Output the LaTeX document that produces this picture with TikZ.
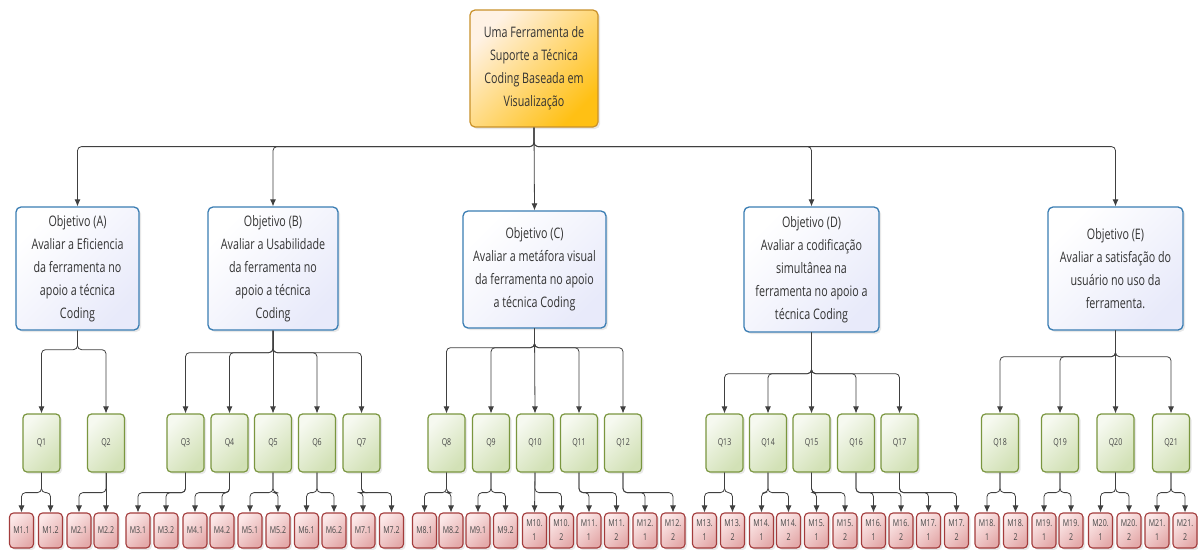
\documentclass[tikz,border=0pt]{standalone}
\usepackage{fontspec}
\setmainfont{Open Sans}[FakeStretch=0.74]
\usepackage{tikz}
\usetikzlibrary{arrows.meta, shadows}
\definecolor{bordaraiz}{HTML}{C9912A}
\definecolor{bordaobj}{HTML}{3A7DB3}
\definecolor{bordaq}{HTML}{7A963F}
\definecolor{bordam}{HTML}{A33C3C}
\definecolor{texto}{HTML}{333333}
\tikzstyle{sombra} = [drop shadow={opacity=0.18, shadow xshift=2pt, shadow yshift=-2pt}]
\tikzstyle{raizbox} = [rectangle, rounded corners=5pt, draw=bordaraiz, line width=1.2pt, top color=orange!10, bottom color={rgb,255:red,255;green,192;blue,20}, shading angle=45, sombra, inner sep=0pt, align=center, text=texto, font=\fontsize{14.5}{23}\selectfont]
\tikzstyle{objbox} = [rectangle, rounded corners=5pt, draw=bordaobj, line width=1.3pt, top color=white, bottom color={rgb,255:red,232;green,234;blue,250}, shading angle=45, sombra, inner sep=0pt, align=center, text=texto, font=\fontsize{14.5}{23}\selectfont]
\tikzstyle{qbox} = [rectangle, rounded corners=4pt, draw=bordaq, line width=1.2pt, top color={rgb,255:red,246;green,249;blue,240}, bottom color={rgb,255:red,210;green,225;blue,182}, shading angle=45, sombra, inner sep=0pt, minimum width=37pt, minimum height=58pt, text=texto!90, font=\fontsize{9.5}{13}\selectfont]
\tikzstyle{mbox} = [rectangle, rounded corners=4pt, draw=bordam, line width=1.1pt, top color={rgb,255:red,252;green,232;blue,232}, bottom color={rgb,255:red,228;green,170;blue,170}, shading angle=45, sombra, inner sep=0pt, minimum width=24pt, minimum height=35pt, align=center, text=texto!90, font=\fontsize{9.5}{14}\selectfont]
\tikzstyle{arrow} = [-{Latex[length=7pt,width=6pt]}, draw=black!75, line width=0.8pt, rounded corners=4pt]

\begin{document}
\begin{tikzpicture}[x=1pt, y=-1pt]

    \fill[white] (0,0) rectangle (1198,549);
    \useasboundingbox (0,0) rectangle (1198,549);

    % raiz
    \node[raizbox, minimum width=128pt, minimum height=117pt] (raiz) at (534,68.5) {Uma Ferramenta de\\Suporte a Técnica\\Coding Baseada em\\Visualização};

    % objetivos
    \node[objbox, minimum width=123pt, minimum height=123pt] (oA) at (77.5,268.5) {Objetivo (A)\\Avaliar a Eficiencia\\da ferramenta no\\apoio a técnica\\Coding};
    \node[objbox, minimum width=130pt, minimum height=123pt] (oB) at (273,268.5) {Objetivo (B)\\Avaliar a Usabilidade\\da ferramenta no\\apoio a técnica\\Coding};
    \node[objbox, minimum width=143pt, minimum height=117pt] (oC) at (534.5,269.5) {Objetivo (C)\\Avaliar a metáfora visual\\da ferramenta no apoio\\a técnica Coding};
    \node[objbox, minimum width=135pt, minimum height=125pt] (oD) at (811.5,269.5) {Objetivo (D)\\Avaliar a codificação\\simultânea na\\ferramenta no apoio a\\técnica Coding};
    \node[objbox, minimum width=135pt, minimum height=123pt] (oE) at (1115.5,268.5) {Objetivo (E)\\Avaliar a satisfação do\\usuário no uso da\\ferramenta.};

    % questoes
    \node[qbox] (q1) at (41.5,443) {Q1};
    \node[qbox] (q2) at (106,443) {Q2};
    \node[qbox] (q3) at (185.5,443) {Q3};
    \node[qbox] (q4) at (229.5,443) {Q4};
    \node[qbox] (q5) at (273,443) {Q5};
    \node[qbox] (q6) at (317,443) {Q6};
    \node[qbox] (q7) at (361.5,443) {Q7};
    \node[qbox] (q8) at (446.5,443) {Q8};
    \node[qbox] (q9) at (491,443) {Q9};
    \node[qbox] (q10) at (535,443) {Q10};
    \node[qbox] (q11) at (579,443) {Q11};
    \node[qbox] (q12) at (623,443) {Q12};
    \node[qbox] (q13) at (724.5,443) {Q13};
    \node[qbox] (q14) at (768,443) {Q14};
    \node[qbox] (q15) at (811.5,443) {Q15};
    \node[qbox] (q16) at (856,443) {Q16};
    \node[qbox] (q17) at (899.5,443) {Q17};
    \node[qbox] (q18) at (1000,443) {Q18};
    \node[qbox] (q19) at (1060,443) {Q19};
    \node[qbox] (q20) at (1115.5,443) {Q20};
    \node[qbox] (q21) at (1171,443) {Q21};

    % metricas
    \node[mbox] (m1a) at (21.5,530.5) {M1.1};
    \node[mbox] (m1b) at (50.5,530.5) {M1.2};
    \node[mbox] (m2a) at (79,530.5) {M2.1};
    \node[mbox] (m2b) at (106,530.5) {M2.2};
    \node[mbox] (m3a) at (138,530.5) {M3.1};
    \node[mbox] (m3b) at (166,530.5) {M3.2};
    \node[mbox] (m4a) at (195,530.5) {M4.1};
    \node[mbox] (m4b) at (222,530.5) {M4.2};
    \node[mbox] (m5a) at (250,530.5) {M5.1};
    \node[mbox] (m5b) at (278,530.5) {M5.2};
    \node[mbox] (m6a) at (306.5,530.5) {M6.1};
    \node[mbox] (m6b) at (334,530.5) {M6.2};
    \node[mbox] (m7a) at (363,530.5) {M7.1};
    \node[mbox] (m7b) at (391.5,530.5) {M7.2};
    \node[mbox] (m8a) at (424.5,530.5) {M8.1};
    \node[mbox] (m8b) at (451,530.5) {M8.2};
    \node[mbox] (m9a) at (478,530.5) {M9.1};
    \node[mbox] (m9b) at (505.5,530.5) {M9.2};
    \node[mbox] (m10a) at (534.5,530.5) {M10.\\1};
    \node[mbox] (m10b) at (561.5,530.5) {M10.\\2};
    \node[mbox] (m11a) at (589,530.5) {M11.\\1};
    \node[mbox] (m11b) at (616.5,530.5) {M11.\\2};
    \node[mbox] (m12a) at (645,530.5) {M12.\\1};
    \node[mbox] (m12b) at (673,530.5) {M12.\\2};
    \node[mbox] (m13a) at (704.5,530.5) {M13.\\1};
    \node[mbox] (m13b) at (732.5,530.5) {M13.\\2};
    \node[mbox] (m14a) at (761.5,530.5) {M14.\\1};
    \node[mbox] (m14b) at (788.5,530.5) {M14.\\2};
    \node[mbox] (m15a) at (816.5,530.5) {M15.\\1};
    \node[mbox] (m15b) at (845,530.5) {M15.\\2};
    \node[mbox] (m16a) at (873.5,530.5) {M16.\\1};
    \node[mbox] (m16b) at (901,530.5) {M16.\\2};
    \node[mbox] (m17a) at (928.5,530.5) {M17.\\1};
    \node[mbox] (m17b) at (956.5,530.5) {M17.\\2};
    \node[mbox] (m18a) at (987,530.5) {M18.\\1};
    \node[mbox] (m18b) at (1015.5,530.5) {M18.\\2};
    \node[mbox] (m19a) at (1044,530.5) {M19.\\1};
    \node[mbox] (m19b) at (1071,530.5) {M19.\\2};
    \node[mbox] (m20a) at (1100.5,530.5) {M20.\\1};
    \node[mbox] (m20b) at (1129,530.5) {M20.\\2};
    \node[mbox] (m21a) at (1157,530.5) {M21.\\1};
    \node[mbox] (m21b) at (1185,530.5) {M21.\\2};

    % raiz -> objetivos
    \draw[arrow] (raiz.south) -- ++(0,19) -| (oA.north);
    \draw[arrow] (raiz.south) -- ++(0,19) -| (oB.north);
    \draw[arrow] (raiz.south) -- (oC.north);
    \draw[arrow] (raiz.south) -- ++(0,19) -| (oD.north);
    \draw[arrow] (raiz.south) -- ++(0,19) -| (oE.north);

    % objetivos -> questoes
    \draw[arrow] (oA.south) -- ++(0,19) -| (q1.north);
    \draw[arrow] (oA.south) -- ++(0,19) -| (q2.north);

    \draw[arrow] (oB.south) -- ++(0,22) -| (q3.north);
    \draw[arrow] (oB.south) -- ++(0,22) -| (q4.north);
    \draw[arrow] (oB.south) -- (q5.north);
    \draw[arrow] (oB.south) -- ++(0,22) -| (q6.north);
    \draw[arrow] (oB.south) -- ++(0,22) -| (q7.north);

    \draw[arrow] (oC.south) -- ++(0,19) -| (q8.north);
    \draw[arrow] (oC.south) -- ++(0,19) -| (q9.north);
    \draw[arrow] (oC.south) -- (q10.north);
    \draw[arrow] (oC.south) -- ++(0,19) -| (q11.north);
    \draw[arrow] (oC.south) -- ++(0,19) -| (q12.north);

    \draw[arrow] (oD.south) -- ++(0,41) -| (q13.north);
    \draw[arrow] (oD.south) -- ++(0,41) -| (q14.north);
    \draw[arrow] (oD.south) -- (q15.north);
    \draw[arrow] (oD.south) -- ++(0,41) -| (q16.north);
    \draw[arrow] (oD.south) -- ++(0,41) -| (q17.north);

    \draw[arrow] (oE.south) -- ++(0,26) -| (q18.north);
    \draw[arrow] (oE.south) -- ++(0,26) -| (q19.north);
    \draw[arrow] (oE.south) -- (q20.north);
    \draw[arrow] (oE.south) -- ++(0,26) -| (q21.north);

    % questoes -> metricas
    \draw[arrow] (q1.south) -- ++(0,20) -| (m1a.north);
    \draw[arrow] (q1.south) -- ++(0,20) -| (m1b.north);
    \draw[arrow] (q2.south) -- ++(0,20) -| (m2a.north);
    \draw[arrow] (q2.south) -- (m2b.north);
    \draw[arrow] (q3.south) -- ++(0,20) -| (m3a.north);
    \draw[arrow] (q3.south) -- ++(0,20) -| (m3b.north);
    \draw[arrow] (q4.south) -- ++(0,20) -| (m4a.north);
    \draw[arrow] (q4.south) -- ++(0,20) -| (m4b.north);
    \draw[arrow] (q5.south) -- ++(0,20) -| (m5a.north);
    \draw[arrow] (q5.south) -- ++(0,20) -| (m5b.north);
    \draw[arrow] (q6.south) -- ++(0,20) -| (m6a.north);
    \draw[arrow] (q6.south) -- ++(0,20) -| (m6b.north);
    \draw[arrow] (q7.south) -- ++(0,20) -| (m7a.north);
    \draw[arrow] (q7.south) -- ++(0,20) -| (m7b.north);
    \draw[arrow] (q8.south) -- ++(0,20) -| (m8a.north);
    \draw[arrow] (q8.south) -- ++(0,20) -| (m8b.north);
    \draw[arrow] (q9.south) -- ++(0,20) -| (m9a.north);
    \draw[arrow] (q9.south) -- ++(0,20) -| (m9b.north);
    \draw[arrow] (q10.south) -- (m10a.north);
    \draw[arrow] (q10.south) -- ++(0,20) -| (m10b.north);
    \draw[arrow] (q11.south) -- ++(0,20) -| (m11a.north);
    \draw[arrow] (q11.south) -- ++(0,20) -| (m11b.north);
    \draw[arrow] (q12.south) -- ++(0,20) -| (m12a.north);
    \draw[arrow] (q12.south) -- ++(0,20) -| (m12b.north);
    \draw[arrow] (q13.south) -- ++(0,20) -| (m13a.north);
    \draw[arrow] (q13.south) -- ++(0,20) -| (m13b.north);
    \draw[arrow] (q14.south) -- ++(0,20) -| (m14a.north);
    \draw[arrow] (q14.south) -- ++(0,20) -| (m14b.north);
    \draw[arrow] (q15.south) -- ++(0,20) -| (m15a.north);
    \draw[arrow] (q15.south) -- ++(0,20) -| (m15b.north);
    \draw[arrow] (q16.south) -- ++(0,20) -| (m16a.north);
    \draw[arrow] (q16.south) -- ++(0,20) -| (m16b.north);
    \draw[arrow] (q17.south) -- ++(0,20) -| (m17a.north);
    \draw[arrow] (q17.south) -- ++(0,20) -| (m17b.north);
    \draw[arrow] (q18.south) -- ++(0,20) -| (m18a.north);
    \draw[arrow] (q18.south) -- ++(0,20) -| (m18b.north);
    \draw[arrow] (q19.south) -- ++(0,20) -| (m19a.north);
    \draw[arrow] (q19.south) -- ++(0,20) -| (m19b.north);
    \draw[arrow] (q20.south) -- ++(0,20) -| (m20a.north);
    \draw[arrow] (q20.south) -- ++(0,20) -| (m20b.north);
    \draw[arrow] (q21.south) -- ++(0,20) -| (m21a.north);
    \draw[arrow] (q21.south) -- ++(0,20) -| (m21b.north);

\end{tikzpicture}
\end{document}
